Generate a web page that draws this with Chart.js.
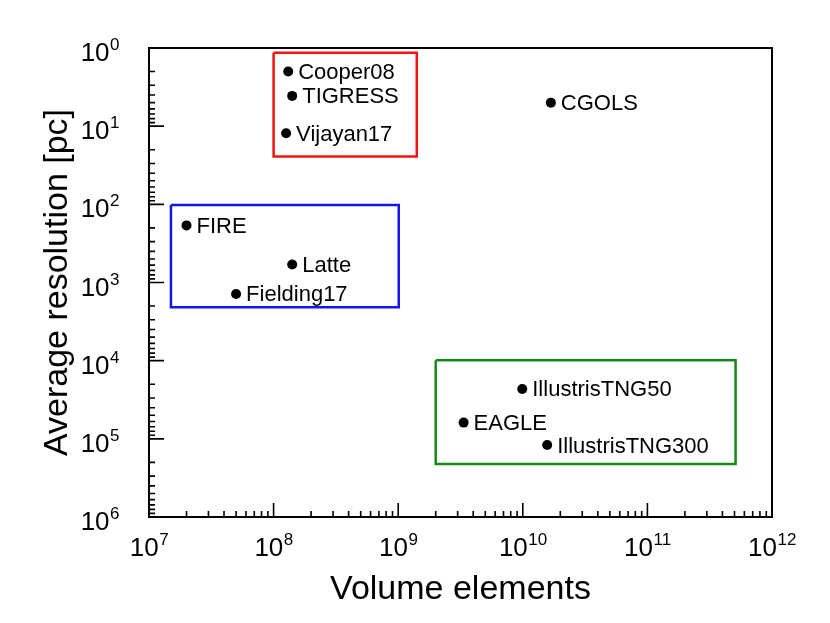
<!DOCTYPE html>
<html>
<head>
<meta charset="utf-8">
<script src="https://cdn.jsdelivr.net/npm/chart.js@4.4.1/dist/chart.umd.min.js"></script>
<style>
  body { margin: 0; background: #fff; }
  #wrap { width: 830px; height: 623px; }
</style>
</head>
<body>
<div id="wrap"><canvas id="myChart"></canvas></div>
<script>
// simulations: volume elements vs average resolution
const names = ['Cooper08', 'TIGRESS', 'Vijayan17', 'CGOLS', 'FIRE', 'Latte', 'Fielding17', 'IllustrisTNG50', 'EAGLE', 'IllustrisTNG300'];
const volumeElements = [1.31e8, 1.41e8, 1.26e8, 1.68e10, 2.0e7, 1.41e8, 5.0e7, 9.9e9, 3.35e9, 1.57e10];
const resolutionPc = [2.0, 4.1, 12.3, 5.0, 186, 590, 1400, 2.3e4, 6.2e4, 1.2e5];

// grouping boxes
const boxXMin = [1.0e8, 1.5e7, 2.0e9];
const boxXMax = [1.41e9, 1.01e9, 5.1e11];
const boxYMin = [1.15, 102, 9.9e3];
const boxYMax = [24.5, 2080, 2.1e5];
const boxColors = ['#f01414', '#1414f0', '#168a16'];

// tick labels (powers of ten)
const xTickExps = [7, 8, 9, 10, 11, 12];
const yTickExps = [0, 1, 2, 3, 4, 5, 6];

const FONT = '"Liberation Sans", Arial, Helvetica, sans-serif';

let datasets = [];
for (let i = 0; i < boxXMin.length; i++) {
  datasets.push({
    data: [
      { x: boxXMin[i], y: boxYMin[i] },
      { x: boxXMax[i], y: boxYMin[i] },
      { x: boxXMax[i], y: boxYMax[i] },
      { x: boxXMin[i], y: boxYMax[i] },
      { x: boxXMin[i], y: boxYMin[i] },
    ],
    showLine: true,
    borderColor: boxColors[i],
    borderWidth: 2.5,
    pointRadius: 0,
    tension: 0,
    fill: false,
  });
}
datasets.push({
  data: volumeElements.map((v, i) => ({ x: v, y: resolutionPc[i] })),
  backgroundColor: '#000',
  borderWidth: 0,
  pointRadius: 5,
});

function drawPow(ctx, exp, x, baseY, align) {
  ctx.font = '26px ' + FONT;
  const w1 = ctx.measureText('10').width;
  ctx.font = '17px ' + FONT;
  const w2 = ctx.measureText(String(exp)).width;
  let left = align === 'center' ? x - (w1 + w2) / 2 : x - (w1 + w2);
  ctx.textAlign = 'left';
  ctx.textBaseline = 'alphabetic';
  ctx.font = '26px ' + FONT;
  ctx.fillText('10', left, baseY);
  ctx.font = '17px ' + FONT;
  ctx.fillText(String(exp), left + w1 + 0.5, baseY - 11);
}

const decor = {
  id: 'decor',
  afterDatasetsDraw(chart) {
    const ctx = chart.ctx;
    const a = chart.chartArea;
    const xs = chart.scales.x;
    const ys = chart.scales.y;
    ctx.save();
    ctx.strokeStyle = '#000';
    ctx.fillStyle = '#000';

    // frame
    ctx.lineWidth = 2;
    ctx.strokeRect(a.left, a.top, a.right - a.left, a.bottom - a.top);

    // inward ticks
    ctx.lineWidth = 1.6;
    ctx.beginPath();
    for (let d = xTickExps[0]; d <= xTickExps[xTickExps.length - 1]; d++) {
      let px = xs.getPixelForValue(Math.pow(10, d));
      ctx.moveTo(px, a.bottom);
      ctx.lineTo(px, a.bottom - 14);
      if (d < xTickExps[xTickExps.length - 1]) {
        for (let m = 2; m <= 9; m++) {
          let p = xs.getPixelForValue(m * Math.pow(10, d));
          ctx.moveTo(p, a.bottom);
          ctx.lineTo(p, a.bottom - 6);
        }
      }
    }
    for (let d = yTickExps[0]; d <= yTickExps[yTickExps.length - 1]; d++) {
      let py = ys.getPixelForValue(Math.pow(10, d));
      ctx.moveTo(a.left, py);
      ctx.lineTo(a.left + 15, py);
      if (d < yTickExps[yTickExps.length - 1]) {
        for (let m = 2; m <= 9; m++) {
          let p = ys.getPixelForValue(m * Math.pow(10, d));
          ctx.moveTo(a.left, p);
          ctx.lineTo(a.left + 6, p);
        }
      }
    }
    ctx.stroke();

    // tick labels
    xTickExps.forEach((e) => {
      drawPow(ctx, e, xs.getPixelForValue(Math.pow(10, e)), a.bottom + 39, 'center');
    });
    yTickExps.forEach((e) => {
      drawPow(ctx, e, a.left - 30, ys.getPixelForValue(Math.pow(10, e)) + 13, 'right');
    });

    // point labels
    const meta = chart.getDatasetMeta(datasets.length - 1);
    ctx.font = '22px ' + FONT;
    ctx.textAlign = 'left';
    ctx.textBaseline = 'alphabetic';
    meta.data.forEach((pt, i) => {
      ctx.fillText(names[i], pt.x + 10, pt.y + 7.5);
    });

    // axis titles
    ctx.font = '34px ' + FONT;
    ctx.textAlign = 'center';
    ctx.fillText('Volume elements', (a.left + a.right) / 2, 599);
    ctx.translate(67, (a.top + a.bottom) / 2);
    ctx.rotate(-Math.PI / 2);
    ctx.fillText('Average resolution [pc]', 0, 0);
    ctx.restore();
  }
};

const config = {
  type: 'scatter',
  data: { datasets: datasets },
  options: {
    responsive: true,
    maintainAspectRatio: false,
    animation: false,
    layout: { padding: { left: 149, right: 58, top: 48, bottom: 106 } },
    plugins: {
      legend: { display: false },
      tooltip: { enabled: false },
    },
    scales: {
      x: { type: 'logarithmic', min: 1e7, max: 1e12, display: false },
      y: { type: 'logarithmic', min: 1, max: 1e6, reverse: true, display: false },
    },
  },
  plugins: [decor],
};

const ctx = document.getElementById('myChart').getContext('2d');
const myChart = new Chart(ctx, config);
</script>
</body>
</html>
